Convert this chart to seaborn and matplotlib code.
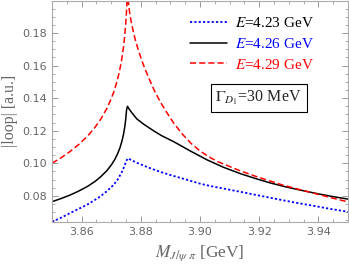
import matplotlib
matplotlib.use("Agg")
import matplotlib.pyplot as plt
import seaborn as sns
from matplotlib.ticker import MultipleLocator

sns.set_style("ticks")
plt.rcParams["mathtext.fontset"] = "stix"

m_red = [3.8500, 3.8530, 3.8560, 3.8590, 3.8620, 3.8645, 3.8665, 3.8685, 3.8700, 3.8710,
         3.8720, 3.8728, 3.8735, 3.8740, 3.8745, 3.8749, 3.8752, 3.8755, 3.8758, 3.8762,
         3.8767, 3.8774, 3.8782, 3.8791, 3.8800, 3.8812, 3.8828, 3.8845, 3.8865, 3.8885,
         3.8910, 3.8940, 3.8970, 3.9000, 3.9030, 3.9060, 3.9090, 3.9130, 3.9180, 3.9230,
         3.9280, 3.9340, 3.9400, 3.9450, 3.9500]
loop_red = [0.1000, 0.1033, 0.1071, 0.1115, 0.1167, 0.1220, 0.1272, 0.1336, 0.1396, 0.1445,
            0.1505, 0.1566, 0.1632, 0.1693, 0.1770, 0.1854, 0.1940, 0.2060, 0.1990, 0.1930,
            0.1875, 0.1815, 0.1755, 0.1700, 0.1650, 0.1590, 0.1520, 0.1450, 0.1380, 0.1320,
            0.1250, 0.1180, 0.1122, 0.1076, 0.1040, 0.1010, 0.0988, 0.0958, 0.0925, 0.0895,
            0.0866, 0.0837, 0.0809, 0.0785, 0.0763]

m_black = [3.8500, 3.8530, 3.8560, 3.8590, 3.8620, 3.8645, 3.8665, 3.8685, 3.8700, 3.8712,
           3.8722, 3.8730, 3.8737, 3.8742, 3.8746, 3.8749, 3.8752, 3.8755, 3.8760, 3.8770,
           3.8787, 3.8810, 3.8843, 3.8870, 3.8911, 3.8968, 3.9024, 3.9080, 3.9137, 3.9190,
           3.9240, 3.9290, 3.9340, 3.9400, 3.9450, 3.9500]
loop_black = [0.0764, 0.0783, 0.0804, 0.0829, 0.0858, 0.0888, 0.0918, 0.0954, 0.0989, 0.1023,
              0.1060, 0.1097, 0.1141, 0.1182, 0.1225, 0.1268, 0.1329, 0.1350, 0.1335, 0.1310,
              0.1272, 0.1240, 0.1200, 0.1170, 0.1133, 0.1075, 0.1021, 0.0975, 0.0936, 0.0905,
              0.0878, 0.0855, 0.0835, 0.0812, 0.0795, 0.0780]

m_blue = [3.8500, 3.8530, 3.8561, 3.8590, 3.8618, 3.8640, 3.8663, 3.8685, 3.8708, 3.8722,
          3.8736, 3.8744, 3.8751, 3.8757, 3.8762, 3.8787, 3.8815, 3.8843, 3.8870, 3.8900,
          3.8957, 3.9000, 3.9036, 3.9093, 3.9150, 3.9205, 3.9260, 3.9317, 3.9380, 3.9440,
          3.9500]
loop_blue = [0.0640, 0.0665, 0.0694, 0.0720, 0.0745, 0.0769, 0.0796, 0.0828, 0.0867, 0.0900,
             0.0946, 0.0980, 0.1015, 0.1031, 0.1025, 0.1003, 0.0982, 0.0962, 0.0945, 0.0928,
             0.0898, 0.0875, 0.0860, 0.0840, 0.0820, 0.0800, 0.0780, 0.0760, 0.0740, 0.0720,
             0.0702]

labels = ["$E$=4.23 GeV", "$E$=4.26 GeV", "$E$=4.29 GeV"]
label_colors = ["black", "blue", "red"]
width_text = r"$\Gamma_{D_1}$=30 MeV"

fig = plt.figure(figsize=(3.49, 2.67), dpi=100)
ax = fig.add_axes([0.149, 0.169, 0.848, 0.829])

sns.lineplot(x=m_blue, y=loop_blue, ax=ax, color="blue", lw=1.3,
             linestyle=(0, (1.2, 1.2)), label=labels[0])
sns.lineplot(x=m_black, y=loop_black, ax=ax, color="black", lw=1.1, label=labels[1])
sns.lineplot(x=m_red, y=loop_red, ax=ax, color="red", lw=1.1,
             linestyle=(0, (4, 2)), label=labels[2])

ax.set_xlim(3.85, 3.95)
ax.set_ylim(0.064, 0.20)
ax.xaxis.set_major_locator(MultipleLocator(0.02))
ax.xaxis.set_minor_locator(MultipleLocator(0.005))
ax.yaxis.set_major_locator(MultipleLocator(0.02))
ax.yaxis.set_minor_locator(MultipleLocator(0.005))
ax.set_yticks([0.08, 0.10, 0.12, 0.14, 0.16, 0.18])
ax.set_xticks([3.86, 3.88, 3.90, 3.92, 3.94])
ax.xaxis.set_major_formatter(lambda v, p: f"{v:.2f}")
ax.yaxis.set_major_formatter(lambda v, p: f"{v:.2f}")

ax.tick_params(which="both", direction="in", top=True, right=True, colors="#888888",
               labelcolor="#666666", labelsize=8)
ax.tick_params(which="major", length=4, width=0.6)
ax.tick_params(which="minor", length=2, width=0.5)
for s in ax.spines.values():
    s.set_color("#aaaaaa")
    s.set_linewidth(0.8)

ax.set_xlabel(r"$M_{J/\psi\;\pi}$ [GeV]", family="Liberation Serif", fontsize=12.5,
              color="#666666", labelpad=5)
ax.set_ylabel("|loop| [a.u.]", family="Liberation Serif", fontsize=11.5,
              color="#666666", labelpad=3)

leg = ax.legend(loc="upper left", bbox_to_anchor=(0.466, 0.93), frameon=False,
                borderpad=0, borderaxespad=0,
                handlelength=2.4, handletextpad=0.55, labelspacing=0.45,
                prop={"family": "Liberation Serif", "size": 11})
for t, c in zip(leg.get_texts(), label_colors):
    t.set_color(c)

ax.text(0.698, 0.561, width_text, transform=ax.transAxes, ha="center", va="center",
        family="Liberation Serif", fontsize=11.5,
        bbox=dict(boxstyle="square,pad=0.3", fc="white", ec="black", lw=0.8))

fig.savefig("out.png", dpi=100)
